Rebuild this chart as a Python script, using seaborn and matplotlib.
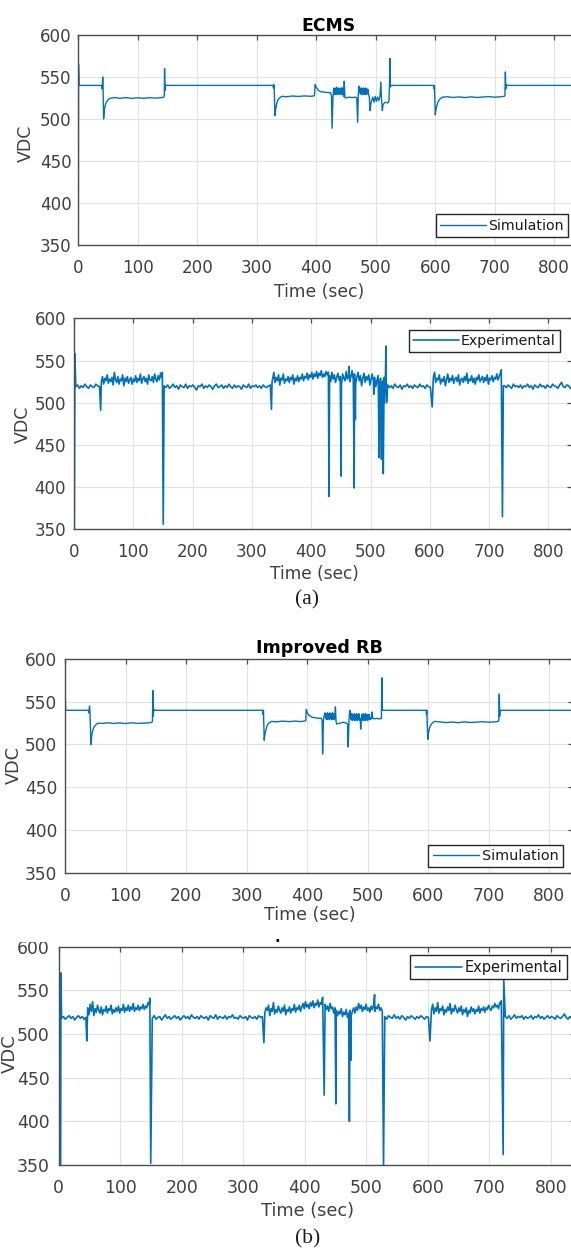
import numpy as np
import pandas as pd
import matplotlib
matplotlib.use("Agg")
import matplotlib.pyplot as plt
import seaborn as sns

# ---------------------------------------------------------------- data
x_ticks = [0, 100, 200, 300, 400, 500, 600, 700, 800]
y_ticks = [350, 400, 450, 500, 550, 600]

# ECMS - simulation  (time [s], VDC [V])
ecms_sim_pts = [
    (0, 350), (0.4, 565), (1.2, 540), (39.5, 540), (40, 536), (40.5, 540), (41, 550), (41.6, 539),
    (42.5, 500), (43.5, 508), (44.5, 514), (46.5, 519), (49, 522), (52, 524), (56, 525), (62, 525.5),
    (70, 524.5), (80, 525.5), (90, 524.5), (100, 525.3), (110, 524.6), (120, 525.4), (130, 524.8),
    (140, 525.5), (143.5, 526), (144.5, 528), (145, 560), (145.6, 534), (146.5, 541), (148, 540),
    (327.5, 540), (328, 537), (328.5, 541), (329.2, 538), (330.5, 504), (331.5, 510), (333, 517),
    (335, 522), (338, 525), (342, 527), (350, 526.5), (360, 527.4), (370, 526.8), (380, 527.5),
    (390, 527), (396, 527.5), (397, 528), (398, 541), (400, 537.5), (403, 534.5), (407, 532.5),
    (415, 531.8), (424, 531.2), (425.5, 528), (426.5, 489), (428, 526), (429, 533),
    (430, 537), (431, 529), (432, 536), (433, 530), (434, 538), (435, 529), (436, 536), (437, 530),
    (438, 537), (439, 529), (440, 536), (441, 530), (442, 537), (443, 529), (444, 537), (445, 530),
    (446, 527), (447, 545), (448, 526), (449, 525), (455, 526), (460, 525.5), (466, 526), (468, 525),
    (469.5, 496), (470.5, 528), (471.5, 539),
    (473, 536), (474, 530), (475, 537), (476, 529), (477, 536), (478, 530), (479, 537), (480, 529),
    (481, 536), (482, 530), (483, 537), (484, 529), (485, 536), (486, 530), (487, 535), (488, 529),
    (489, 527), (490.5, 510), (491.5, 518), (493, 522), (495, 526), (497, 520), (499, 527), (501, 521),
    (503, 526), (505, 522), (507, 527), (508.5, 544), (509.5, 525), (511, 510), (512, 516), (514, 519),
    (517, 520), (520, 519), (522, 521), (523, 540), (523.8, 572), (524.5, 538), (525.5, 540),
    (597.5, 540), (598, 536), (598.5, 540), (600, 505), (601, 511), (603, 517), (605, 521), (608, 524),
    (612, 526), (620, 526.5), (630, 525.6), (640, 526.3), (650, 525.5), (660, 526.4), (670, 525.6),
    (680, 526.2), (690, 526.6), (700, 526), (710, 526.5), (716, 527), (717, 528), (717.8, 556),
    (718.5, 536), (719.5, 541), (721, 540), (840, 540),
]

# Improved RB - simulation
rb_sim_pts = [
    (0, 350), (0.4, 555), (1.2, 540), (39, 540), (39.5, 537), (40, 540), (40.5, 545), (41.2, 539),
    (42.8, 500), (43.8, 508), (45, 514), (47, 519), (49.5, 522), (52.5, 524), (56, 525), (62, 524.6),
    (70, 525.4), (80, 524.6), (90, 525.2), (100, 524.5), (110, 525.4), (120, 524.6), (130, 525),
    (140, 525.4), (143.5, 526), (144.5, 527), (145.3, 563), (145.9, 533), (146.8, 541), (148, 540),
    (327, 540), (327.5, 535), (328, 540), (329.3, 505), (330.3, 511), (332, 517), (334, 522),
    (337, 525), (341, 527), (350, 526.5), (360, 527.4), (370, 526.7), (380, 527.4), (390, 526.8),
    (397, 527.5), (398, 528), (398.8, 541), (400.5, 537), (403.5, 534), (408, 532), (415, 531),
    (424, 530.5), (425, 528), (425.8, 489), (427.2, 528), (428.5, 534),
    (430, 537), (431, 530), (432, 536), (433, 529), (434, 537), (435, 530), (436, 536), (437, 529),
    (438, 537), (439, 530), (440, 536), (441, 529), (442, 537), (443, 530), (444, 536), (445, 529),
    (446, 531), (447, 544), (448, 527), (449, 524), (455, 525), (460, 526), (465, 525), (467, 524),
    (468, 497), (469.5, 530), (470.8, 540),
    (472, 535), (473, 529), (474, 536), (475, 528), (476, 535), (477, 529), (478, 536), (479, 528),
    (480, 535), (481, 529), (482, 536), (483, 528), (484, 535), (485, 529), (486, 536), (487, 528),
    (488, 530), (488.8, 518), (489.6, 530), (491, 535), (492, 528), (493, 536), (494, 529), (495, 535),
    (496, 528), (497, 536), (498, 529), (499, 535), (500, 528), (501, 535), (502, 529), (503, 535),
    (504, 529), (505, 531), (506.5, 530), (507.5, 538), (508.5, 531), (511, 530), (515, 530.5),
    (520, 530), (523, 530.5), (523.7, 578), (524.4, 540),
    (597, 540), (597.5, 535), (598, 540), (599.6, 506), (600.6, 512), (602, 518), (604, 522),
    (607, 525), (611, 527), (620, 526.4), (630, 525.6), (640, 526.3), (650, 525.5), (660, 526.5),
    (670, 525.7), (680, 526.2), (690, 526.6), (700, 526), (710, 526.4), (716, 527), (717, 528),
    (717.8, 559), (718.4, 533), (719.2, 540), (840, 540),
]

# ECMS - experimental: noisy stretches (start, end, samples) and isolated spikes
ecms_exp_spans = [(3, 43), (46, 148), (152, 331), (335, 429), (431, 525), (529, 601), (606, 719), (726, 840)]
ecms_exp_low1 = [519, 521, 517, 520, 518, 522, 519, 517, 521, 519, 518, 522, 520, 519]
ecms_exp_high1 = [524, 531, 522, 529, 526, 533, 523, 528, 525, 530, 521, 536, 527, 524, 531, 522, 528, 526,
                  533, 520, 529, 525, 531, 523, 527, 530, 522, 528, 525, 532, 524, 529, 526, 534, 523, 528,
                  531, 525, 529, 522, 533, 527, 526, 531, 524, 534, 528, 525, 532, 527, 535, 530]
ecms_exp_low2 = [520, 518, 521, 517, 519, 522, 518, 520, 516, 521, 519, 518, 522, 517, 520, 519, 521, 518,
                 515, 520, 519, 522, 517, 520, 518, 521, 519, 516, 520, 522, 518, 519, 521, 517, 520, 518,
                 522, 519, 517, 521, 518, 520, 519, 516, 521, 519, 518, 522, 517, 520, 519, 521, 518, 520,
                 517, 521, 519, 518, 520, 521]
ecms_exp_high2 = [528, 536, 524, 530, 526, 533, 521, 529, 527, 534, 523, 528, 526, 531, 524, 530, 527, 533,
                  522, 529, 526, 532, 525, 530, 528, 534, 526, 531, 529, 535, 527, 533, 530, 536, 528, 534,
                  531, 537, 529, 535, 532, 538, 530, 534, 531, 537, 533, 536]
ecms_exp_mid = [532, 525, 536, 528, 533, 524, 530, 535, 527, 531, 522, 534, 529, 526, 537, 528, 533, 525,
                531, 538, 527, 534, 523, 530, 536, 526, 532, 520, 529, 535, 524, 531, 527, 533, 521, 528,
                534, 525, 530, 519, 527, 532, 524, 529, 522, 526, 530, 524]
ecms_exp_low3 = [521, 518, 520, 517, 522, 519, 518, 521, 516, 520, 519, 522, 518, 520, 517, 521, 519, 518,
                 522, 519, 520, 517, 521, 519, 518]
ecms_exp_high3 = [530, 536, 524, 529, 527, 533, 522, 528, 525, 531, 520, 527, 534, 524, 529, 526, 532, 523,
                  528, 530, 525, 533, 521, 527, 529, 524, 531, 526, 535, 523, 528, 526, 532, 524, 529, 522,
                  530, 527, 533, 525, 528, 531, 524, 530, 526, 533, 522, 529, 527, 532, 525, 530, 528, 534,
                  527, 531, 535]
ecms_exp_low4 = [520, 518, 521, 519, 517, 522, 519, 520, 518, 521, 517, 520, 519, 522, 518, 520, 516, 521,
                 519, 518, 522, 519, 520, 517, 521, 519, 518, 522, 520, 519, 517, 521, 524, 519, 518, 521,
                 520, 517, 519]
ecms_exp_spike_t = [0.5, 1.5, 45, 149, 150.5, 333, 334, 430, 450.5, 463.5, 472.5, 474.5, 505.5, 514.5,
                    516, 518.5, 521.5, 523, 526, 527, 604, 720.5, 722.5, 724]
ecms_exp_spike_v = [350, 558, 491, 536, 356, 492, 525, 389, 413, 543, 399, 480, 510, 435,
                    522, 433, 416, 500, 567, 500, 495, 539, 365, 520]

# Improved RB - experimental
rb_exp_spans = [(4.5, 44), (47, 147), (152, 331), (335, 429), (433, 526), (530, 601), (606, 719), (726, 840)]
rb_exp_low1 = [518, 520, 517, 519, 521, 518, 520, 516, 519, 521, 518, 520, 517, 519]
rb_exp_high1 = [530, 522, 534, 526, 537, 521, 529, 525, 533, 527, 524, 531, 522, 528, 526, 532, 524, 529,
                527, 533, 523, 528, 525, 530, 526, 532, 524, 529, 527, 534, 525, 530, 527, 533, 526, 531,
                528, 535, 526, 530, 528, 533, 527, 531, 529, 534, 528, 532, 530, 536, 533]
rb_exp_low2 = [518, 521, 517, 519, 520, 516, 519, 522, 518, 520, 517, 519, 521, 518, 520, 516, 519, 521,
               518, 520, 517, 522, 519, 518, 520, 517, 521, 519, 518, 520, 516, 521, 519, 518, 522, 517,
               520, 519, 518, 521, 517, 520, 519, 522, 518, 519, 517, 521, 519, 518, 520, 516, 521, 519,
               518, 520, 517, 521, 519, 520]
rb_exp_high2 = [524, 530, 527, 533, 521, 529, 526, 536, 523, 528, 525, 532, 527, 524, 530, 526, 533, 522,
                528, 526, 531, 524, 529, 527, 534, 525, 530, 528, 533, 526, 531, 535, 529, 537, 531, 534,
                529, 536, 532, 538, 530, 535, 533, 539, 531, 536, 534, 542]
rb_exp_mid = [534, 528, 532, 526, 535, 529, 531, 524, 530, 527, 521, 526, 523, 529, 520, 525, 522, 528,
              519, 524, 527, 521, 526, 530, 524, 531, 527, 535, 529, 533, 526, 531, 528, 534, 527, 530,
              525, 532, 528, 533, 526, 531, 529, 534, 527, 530, 526]
rb_exp_low3 = [520, 517, 521, 519, 518, 522, 518, 520, 517, 521, 519, 516, 520, 518, 521, 519, 517, 520,
               518, 521, 519, 517, 520, 519]
rb_exp_high3 = [528, 534, 523, 530, 526, 536, 524, 529, 527, 532, 522, 528, 525, 531, 527, 535, 523, 529,
                526, 533, 528, 524, 530, 526, 532, 522, 528, 525, 530, 520, 527, 524, 531, 526, 529, 523,
                528, 526, 532, 524, 529, 527, 531, 525, 530, 528, 533, 529, 527, 532, 530, 535, 531, 533,
                529, 536, 534]
rb_exp_low4 = [520, 518, 521, 517, 519, 522, 518, 520, 519, 521, 517, 520, 518, 519, 521, 517, 520, 519,
               522, 518, 520, 517, 519, 521, 518, 520, 519, 517, 521, 519, 518, 520, 523, 519, 517, 520,
               518, 521, 519]
rb_exp_spike_t = [3, 3.5, 45.5, 148, 149.5, 333.5, 431.5, 450.5, 472.5, 475, 513.5, 528, 603.5,
                  719.5, 722.5, 723.5]
rb_exp_spike_v = [350, 570, 492, 541, 352, 490, 430, 420, 400, 470, 545, 348, 492,
                  538, 362, 562]


# ---------------------------------------------------------------- helpers
def from_pairs(pts):
    t, v = zip(*pts)
    return pd.DataFrame({"t": t, "v": v})


def from_segments(spans, chunks, spike_t, spike_v):
    ts, vs = [], []
    for (t0, t1), vals in zip(spans, chunks):
        ts.extend(np.linspace(t0, t1, len(vals)))
        vs.extend(vals)
    ts.extend(spike_t)
    vs.extend(spike_v)
    order = np.argsort(np.asarray(ts, float), kind="stable")
    return pd.DataFrame({"t": np.asarray(ts, float)[order], "v": np.asarray(vs, float)[order]})


ecms_sim = from_pairs(ecms_sim_pts)
rb_sim = from_pairs(rb_sim_pts)
ecms_exp = from_segments(ecms_exp_spans,
                         [ecms_exp_low1, ecms_exp_high1, ecms_exp_low2, ecms_exp_high2,
                          ecms_exp_mid, ecms_exp_low3, ecms_exp_high3, ecms_exp_low4],
                         ecms_exp_spike_t, ecms_exp_spike_v)
rb_exp = from_segments(rb_exp_spans,
                       [rb_exp_low1, rb_exp_high1, rb_exp_low2, rb_exp_high2,
                        rb_exp_mid, rb_exp_low3, rb_exp_high3, rb_exp_low4],
                       rb_exp_spike_t, rb_exp_spike_v)

# ---------------------------------------------------------------- style
sns.set_style("white")
plt.rcParams["font.family"] = ["DejaVu Sans"]

W, H = 571, 1251
BLUE = "#0072BD"
AX_C = "#4d4d4d"
TXT_C = "#404040"

fig = plt.figure(figsize=(W / 100, H / 100), dpi=100)
fig.patch.set_facecolor("white")

# (data frame, legend label, title, left px, top px, bottom px, px per 100 s,
#  legend lower-left px, ylabel anchor px, xlabel top px, ytick pad, title pad, line width)
panels = [
    (ecms_sim, "Simulation", "ECMS", 78.3, 35, 245, 59.5, (435.7, 237.0), (35.0, 143.3), 283.0, 4.8, 3.0, 1.0),
    (ecms_exp, "Experimental", None, 74.0, 318.3, 529.3, 59.3, (408.6, 352.3), (31.4, 424.0), 565.0, 5.6, 0, 1.2),
    (rb_sim, "Simulation", "Improved RB", 65.0, 659.0, 872.7, 60.5, (428.3, 867.3), (22.4, 765.0), 906.0, 5.4, 4.3, 1.0),
    (rb_exp, "Experimental", None, 58.8, 946.7, 1165.0, 61.5, (410.4, 979.3), (18.5, 1054.0), 1201.7, 6.5, 0, 1.2),
]

for (df, lab, title, left, top, bottom, px100, legxy, ylxy, xltop, ypad, tpad, lw) in panels:
    k = px100 / 59.4
    width = 8.4 * px100
    hgt = bottom - top
    ax = fig.add_axes([left / W, 1 - bottom / H, width / W, hgt / H])
    sns.lineplot(data=df, x="t", y="v", ax=ax, estimator=None, sort=False,
                 color=BLUE, linewidth=lw, label=lab)
    ax.set_xlim(0, 840)
    ax.set_ylim(350, 600)
    ax.set_xticks(x_ticks)
    ax.set_yticks(y_ticks)
    ax.grid(True, color="#e2e2e2", linewidth=0.8)
    ax.set_axisbelow(True)
    ax.tick_params(direction="in", top=True, right=True, length=3.8, width=0.9,
                   color=AX_C, labelsize=12 * k, labelcolor=TXT_C)
    ax.tick_params(axis="x", pad=10 * k)
    ax.tick_params(axis="y", pad=ypad)
    for s in ax.spines.values():
        s.set_color(AX_C)
        s.set_linewidth(1.0)

    ax.set_xlabel("Time (sec)", fontsize=12.3 * k, color=TXT_C, va="top")
    ax.xaxis.set_label_coords(405 / 840, (bottom - xltop) / hgt)
    ax.set_ylabel("VDC", fontsize=12.5 * k, color=TXT_C)
    ax.yaxis.set_label_coords((ylxy[0] - left) / width, (bottom - ylxy[1]) / hgt)

    if title:
        ax.set_title(title, fontsize=12.4 * k, fontweight="bold", color="black", pad=tpad)

    leg = ax.legend(loc="lower left", bbox_to_anchor=(legxy[0] / W, 1 - legxy[1] / H),
                    bbox_transform=fig.transFigure, borderaxespad=0, frameon=True,
                    fancybox=False, framealpha=1, edgecolor="#262626",
                    fontsize=10.2 * k, borderpad=0.3, handlelength=3.24, handletextpad=0.15)
    leg.get_frame().set_linewidth(1.0)
    for txt in leg.get_texts():
        txt.set_color("#1a1a1a")

# captions
fig.text(307 / W, 1 - 600 / H, "(a)", ha="center", va="center",
         family="Liberation Serif", fontsize=15.5, color="#1a1a1a")
fig.text(308 / W, 1 - 1239 / H, "(b)", ha="center", va="center",
         family="Liberation Serif", fontsize=15.5, color="#1a1a1a")

# crop edge above the last panel (top of its "600" label is cut in the source)
fig.patches.append(plt.Rectangle((0, 1 - 941.5 / H), 1, 12 / H, transform=fig.transFigure,
                                 facecolor="white", edgecolor="none", zorder=10))
fig.text(277.5 / W, 1 - 942.3 / H, ".", ha="center", va="baseline", fontsize=11,
         fontweight="bold", color="black", zorder=11)

fig.savefig("out.png", dpi=100, facecolor="white")
